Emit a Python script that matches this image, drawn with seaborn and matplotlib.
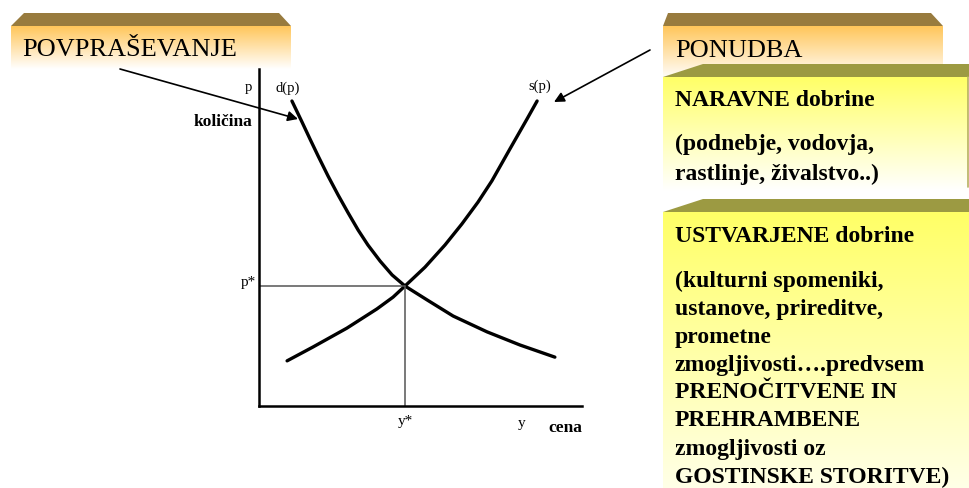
import numpy as np
import seaborn as sns
import matplotlib.pyplot as plt
from matplotlib.colors import LinearSegmentedColormap
from matplotlib.patches import Polygon

# krivulja povpraševanja d(p) in ponudbe s(p), odčitano s slike
demand_q = [1.02, 1.33, 1.58, 1.83, 2.14, 2.45, 2.76, 3.07, 3.37, 3.75, 4.12,
            4.52, 5.20, 6.01, 7.06, 8.08, 9.16]
demand_p = [9.05, 8.43, 7.92, 7.42, 6.82, 6.26, 5.73, 5.22, 4.78, 4.30, 3.89,
            3.56, 3.15, 2.67, 2.20, 1.81, 1.45]
supply_q = [0.87, 1.67, 2.72, 3.65, 4.15, 4.52, 5.14, 5.76, 6.28, 6.78, 7.21, 7.77, 8.30, 8.61]
supply_p = [1.34, 1.75, 2.31, 2.88, 3.23, 3.56, 4.12, 4.78, 5.40, 6.05, 6.68, 7.63, 8.52, 9.05]
y_star = 4.52
p_star = 3.56

demand_title = 'POVPRAŠEVANJE'
supply_title = 'PONUDBA'
natural_lines = ['NARAVNE dobrine', '(podnebje, vodovja,', 'rastlinje, živalstvo..)']
created_lines = ['USTVARJENE dobrine', '(kulturni spomeniki,', 'ustanove, prireditve,',
                 'prometne', 'zmogljivosti….predvsem', 'PRENOČITVENE IN',
                 'PREHRAMBENE', 'zmogljivosti oz', 'GOSTINSKE STORITVE)']

sns.set_style('white')
plt.rcParams['font.family'] = ['Liberation Serif', 'DejaVu Serif']
plt.rcParams['text.color'] = 'black'

fig = plt.figure(figsize=(9.7, 4.89), dpi=100)

# ozadje s škatlami (koordinate v pikslih)
bg = fig.add_axes([0, 0, 1, 1], zorder=0)
bg.axis('off')
grad = np.linspace(0, 1, 256).reshape(-1, 1)


def box(x0, x1, ytop, ybot, color, fade_to=None):
    cmap = LinearSegmentedColormap.from_list('g', [color, 'white'])
    fade = fade_to if fade_to else ybot
    img = bg.imshow(grad, cmap=cmap, aspect='auto', origin='upper',
                    extent=(x0, x1, fade, ytop), interpolation='bilinear', zorder=1)
    if fade_to:
        img.set_clip_path(Polygon([(x0, ytop), (x1, ytop), (x1, ybot), (x0, ybot)],
                                  transform=bg.transData))


def band(pts, color):
    bg.add_patch(Polygon(pts, closed=True, facecolor=color, edgecolor='none', zorder=2))


brown = '#987B3E'
olive = '#9C9A42'

box(11, 291, 27, 70, '#FFC65A')
band([(24, 14), (279, 14), (291, 27), (11, 27)], brown)
bg.text(22, 50, demand_title, fontsize=19, va='center', ha='left', zorder=3)

box(663, 943, 27, 80, '#FFC65A')
band([(668, 14), (931, 14), (943, 27), (663, 27)], brown)
bg.text(675, 51, supply_title, fontsize=19, va='center', ha='left', zorder=3)

box(663, 968, 78, 192, '#FFFF66')
band([(703, 65), (970, 65), (970, 78), (663, 78)], olive)
bg.plot([968.5, 968.5], [78, 188], color='#B8B060', lw=1.2, zorder=3)
nat_y = [101, 144, 174]
for t, yy in zip(natural_lines, nat_y):
    bg.text(675, yy, t, fontsize=17, fontweight='bold', va='center', ha='left', zorder=3)

box(663, 970, 213, 489, '#FFFF66', fade_to=540)
band([(703, 200), (970, 200), (970, 213), (663, 213)], olive)
cre_y = [236, 281, 309, 337, 365, 392, 420, 449, 477]
for t, yy in zip(created_lines, cre_y):
    bg.text(675, yy, t, fontsize=17, fontweight='bold', va='center', ha='left', zorder=3)

bg.set_xlim(0, 970)
bg.set_ylim(489, 0)

# graf ponudbe in povpraševanja
ax = fig.add_axes([259 / 970, (489 - 407) / 489, 323 / 970, 337 / 489], zorder=1)
ax.patch.set_alpha(0)
sns.lineplot(x=demand_q, y=demand_p, sort=False, estimator=None, color='black', lw=2.4,
             solid_joinstyle='round', ax=ax)
sns.lineplot(x=supply_q, y=supply_p, sort=False, estimator=None, color='black', lw=2.4,
             solid_joinstyle='round', ax=ax)
ax.plot([0, y_star], [p_star, p_star], color='#555555', lw=1.1)
ax.plot([y_star, y_star], [0, p_star], color='#555555', lw=1.1)
ax.set_xlim(0, 10)
ax.set_ylim(0, 10)
ax.set_xticks([])
ax.set_yticks([])
sns.despine(ax=ax)
for s in ['left', 'bottom']:
    ax.spines[s].set_linewidth(1.8)
    ax.spines[s].set_color('black')

ax.text(-0.34, 9.47, 'p', fontsize=10.5, ha='center', va='center')
ax.text(0.9, 9.47, 'd(p)', fontsize=10.5, ha='center', va='center')
ax.text(8.7, 9.53, 's(p)', fontsize=10.5, ha='center', va='center')
ax.text(-0.1, 3.68, 'p*', fontsize=11, ha='right', va='center')
ax.text(y_star, -0.42, 'y*', fontsize=11, ha='center', va='center')
ax.text(8.14, -0.5, 'y', fontsize=11, ha='center', va='center')
ax.text(9.47, -0.62, 'cena', fontsize=12.5, fontweight='bold', ha='center', va='center')
ax.text(-0.2, 8.46, 'količina', fontsize=12.5, fontweight='bold', ha='right', va='center')

# puščice
top = fig.add_axes([0, 0, 1, 1], zorder=3)
top.axis('off')
top.set_xlim(0, 970)
top.set_ylim(489, 0)
arrow = dict(arrowstyle='-|>', color='black', lw=1.2, mutation_scale=15, shrinkA=0, shrinkB=0)
top.annotate('', xy=(298, 120), xytext=(120, 70), arrowprops=arrow)
top.annotate('', xy=(554, 103), xytext=(650, 51), arrowprops=arrow)

fig.savefig('out.png', dpi=100)
